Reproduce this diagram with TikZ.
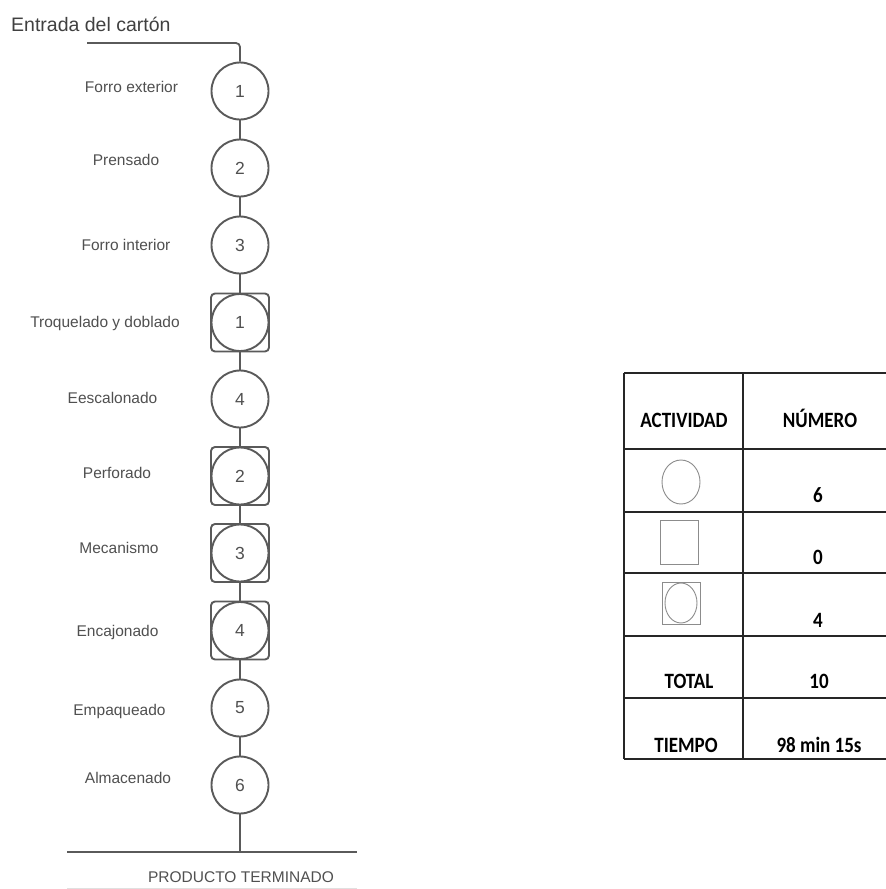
\documentclass[tikz,border=0pt]{standalone}
\usepackage{fontspec}
\setmainfont{Liberation Sans}
\newfontfamily\calibri{Carlito}
\usetikzlibrary{shapes.geometric}
\definecolor{linegray}{HTML}{5A5A5A}
\definecolor{textgray}{HTML}{505050}
\newcommand{\tallbold}[1]{\scalebox{1}[1.15]{#1}}
\begin{document}
\begin{tikzpicture}[x=1pt,y=-1pt,
  opcircle/.style={circle,draw=linegray,line width=1.9pt,minimum size=57pt,inner sep=0pt,
     text=textgray,font=\fontsize{17.5}{20}\selectfont},
  opsquare/.style={rectangle,rounded corners=4pt,draw=linegray,line width=1.9pt,minimum size=58pt,inner sep=0pt},
  conn/.style={draw=linegray,line width=1.8pt},
  lbl/.style={anchor=base,text=textgray,inner sep=0pt,font=\fontsize{15.5}{18}\selectfont},
  tline/.style={draw=black!85,line width=1.4pt},
  ttext/.style={anchor=base,inner sep=0pt,font=\calibri\bfseries\fontsize{19}{22}\selectfont},
  ticon/.style={draw=black!45,line width=0.9pt}]
\useasboundingbox (0,0) rectangle (886,889);
\fill[white] (0,0) rectangle (886,889);

% title
\node[anchor=base west,inner sep=0pt,text=black!75,font=\fontsize{19.5}{22}\selectfont] (title) at (11,31) {Entrada del cartón};

% flow nodes
\node[opcircle] (c1) at (240,91) {1};
\node[opcircle] (c2) at (240,168) {2};
\node[opcircle] (c3) at (240,245) {3};
\node[opsquare] (s1) at (240,322.5) {};
\node[opcircle] (c4) at (240,322.5) {1};
\node[opcircle] (c5) at (240,399) {4};
\node[opsquare] (s2) at (240,476) {};
\node[opcircle] (c6) at (240,476) {2};
\node[opsquare] (s3) at (240,553) {};
\node[opcircle] (c7) at (240,553) {3};
\node[opsquare] (s4) at (240,630.5) {};
\node[opcircle] (c8) at (240,630.5) {4};
\node[opcircle] (c9) at (240,708) {5};
\node[opcircle] (c10) at (240,785) {6};

% labels
\node[lbl] (l1) at (131.5,92) {Forro exterior};
\node[lbl] (l2) at (126,165) {Prensado};
\node[lbl] (l3) at (126,250) {Forro interior};
\node[lbl] (l4) at (105,327) {Troquelado y doblado};
\node[lbl] (l5) at (112.5,403) {Eescalonado};
\node[lbl] (l6) at (117,478) {Perforado};
\node[lbl] (l7) at (119,553) {Mecanismo};
\node[lbl] (l8) at (117.5,636) {Encajonado};
\node[lbl] (l9) at (119.5,715) {Empaqueado};
\node[lbl] (l10) at (128,783) {Almacenado};

% connectors
\coordinate (in) at (87,43);
\draw[conn,rounded corners=4pt] (in) -| (c1);
\draw[conn] (c1) -- (c2);
\draw[conn] (c2) -- (c3);
\draw[conn] (c3) -- (s1);
\draw[conn] (s1) -- (c5);
\draw[conn] (c5) -- (s2);
\draw[conn] (s2) -- (s3);
\draw[conn] (s3) -- (s4);
\draw[conn] (s4) -- (c9);
\draw[conn] (c9) -- (c10);
\coordinate (out) at (240,852);
\draw[conn] (c10) -- (out);
\coordinate (hl) at (67,852);
\coordinate (hr) at (357,852);
\draw[conn,line width=1.4pt] (hl) -- (hr);
\node[anchor=base,inner sep=0pt,text=textgray,font=\fontsize{15.5}{18}\selectfont] (prod) at (241,882) {PRODUCTO TERMINADO};
\coordinate (fl) at (67,888);
\coordinate (fr) at (357,888);
\draw[black!12,line width=1pt] (fl) -- (fr);

% table
\draw[tline] (624,373) -- (886,373);
\draw[tline] (624,449) -- (886,449);
\draw[tline] (624,512) -- (886,512);
\draw[tline] (624,573) -- (886,573);
\draw[tline] (624,636) -- (886,636);
\draw[tline] (624,698) -- (886,698);
\draw[tline] (624,759) -- (886,759);
\draw[tline] (624,373) -- (624,759);
\draw[tline] (743,373) -- (743,759);

\node[ttext] (h1) at (684,427) {\tallbold{ACTIVIDAD}};
\node[ttext] (h2) at (820,427) {\tallbold{NÚMERO}};
\draw[ticon] (681,482) ellipse [x radius=19, y radius=22];
\draw[ticon] (660,520) rectangle (698,564);
\draw[ticon] (662,582) rectangle (700,624);
\draw[ticon] (681,603) ellipse [x radius=16, y radius=20];
\node[ttext] (n1) at (818,502) {\tallbold{6}};
\node[ttext] (n2) at (818,564) {\tallbold{0}};
\node[ttext] (n3) at (818,627) {\tallbold{4}};
\node[ttext] (tt) at (689,688) {\tallbold{TOTAL}};
\node[ttext] (n4) at (819,688) {\tallbold{10}};
\node[ttext] (ti) at (686,752) {\tallbold{TIEMPO}};
\node[ttext] (n5) at (819,752) {\tallbold{98 min 15s}};
\end{tikzpicture}
\end{document}
